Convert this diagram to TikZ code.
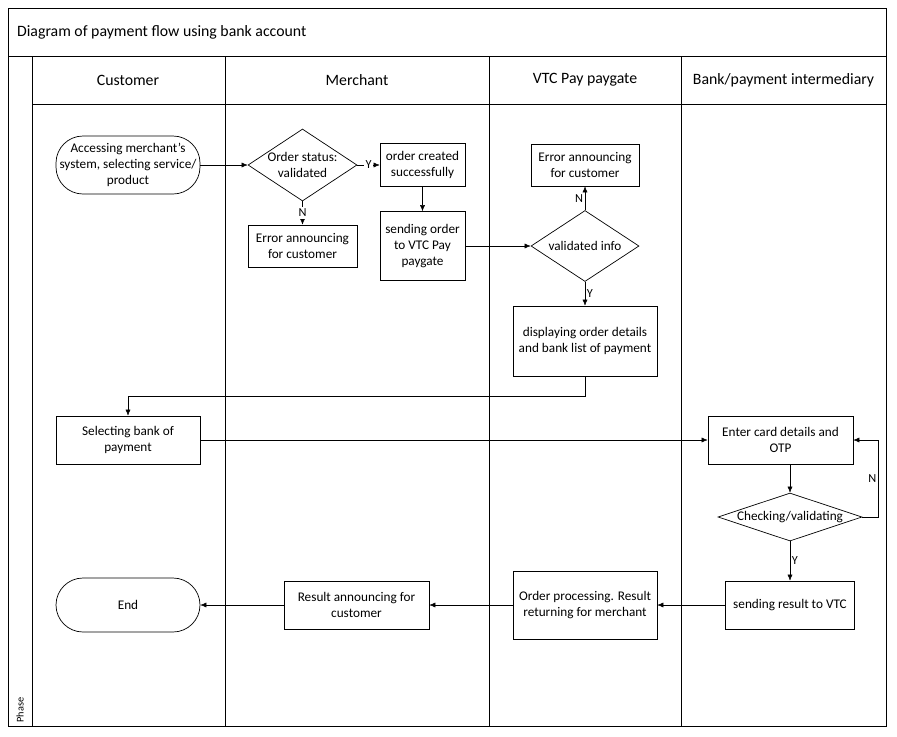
\documentclass[tikz,border=0pt]{standalone}
\usepackage{fontspec}
\setmainfont{Carlito}
\usetikzlibrary{shapes.geometric,arrows.meta}

\begin{document}
\begin{tikzpicture}[x=0.3mm,y=-0.3mm,>={Latex[length=1.8mm,width=1.5mm]},
	box/.style={draw,line width=0.6pt,inner sep=0pt,align=center,font=\fontsize{11.3}{13.6}\selectfont},
	terminal/.style={box,rounded corners=8.1mm},
	decision/.style={draw,diamond,line width=0.6pt,inner sep=0pt,label={[font=\fontsize{11.3}{13.6}\selectfont,align=center]center:#1}},
	yn/.style={font=\fontsize{10.5}{12}\selectfont,inner sep=1.5pt},
	lane/.style={line width=0.6pt},
	head/.style={font=\fontsize{13.5}{16}\selectfont}]
	\useasboundingbox (0,0) rectangle (897,736);
	
	% Frame and lanes
	\draw[line width=0.8pt] (8,8) rectangle (886,726);
	\draw[lane] (8,56) -- (886,56);
	\draw[lane] (32,104) -- (886,104);
	\foreach \x in {32,225,489,681}
	\draw[lane] (\x,56) -- (\x,726);
	
	% Titles
	\node[head,anchor=west] (title) at (13,32) {Diagram of payment flow using bank account};
	\foreach \x/\t [count=\i] in {128/Customer, 357/Merchant, 585/VTC Pay paygate, 783.5/{Bank/payment intermediary}}
	\node[head] (lane\i) at (\x,80) {\t};
	\node[rotate=90,font=\fontsize{8.8}{10}\selectfont] (phase) at (20,710) {Phase};
	
	% Customer
	\node[terminal,minimum width=43.2mm,minimum height=17.4mm] (start) at (128,165) {Accessing merchant’s\\system, selecting service/\\product};
	\node[box,minimum width=43.2mm,minimum height=14.4mm] (select) at (128,440) {Selecting bank of\\payment};
	\node[terminal,minimum width=43.2mm,minimum height=16.2mm] (end) at (128,605) {End};
	
	% Merchant
	\node[decision={Order status:\\validated},minimum width=32.7mm,minimum height=21.6mm] (order) at (302.5,165) {};
	\node[box,minimum width=32.7mm,minimum height=12.6mm] (merr) at (302.5,246) {Error announcing\\for customer};
	\node[box,minimum width=25.5mm,minimum height=12.9mm] (created) at (422.5,165) {order created\\successfully};
	\node[box,minimum width=25.5mm,minimum height=20.7mm] (sendord) at (422.5,246) {sending order\\to VTC Pay\\paygate};
	\node[box,minimum width=43.5mm,minimum height=14.4mm] (result) at (356.5,605) {Result announcing for\\customer};
	
	% VTC Pay paygate
	\node[box,minimum width=32.4mm,minimum height=12.6mm] (verr) at (585,165) {Error announcing\\for customer};
	\node[decision={validated info},minimum width=32.4mm,minimum height=21.3mm] (valid) at (585,246) {};
	\node[box,minimum width=43.2mm,minimum height=21mm] (disp) at (585,341) {displaying order details\\and bank list of payment};
	\node[box,minimum width=43.2mm,minimum height=20.4mm] (proc) at (585,605) {Order processing. Result\\returning for merchant};
	
	% Bank
	\node[box,minimum width=43.5mm,minimum height=14.4mm] (enter) at (780.5,440) {Enter card details and\\OTP};
	\node[decision={Checking/validating},minimum width=43.2mm,minimum height=14.4mm] (check) at (790,517) {};
	\node[box,minimum width=38.7mm,minimum height=14.4mm] (sendres) at (790,605) {sending result to VTC};
	
	% Arrows
	\draw[->] (start.east) -- (order.west);
	\draw[->] (order.east) -- node[yn,fill=white] {Y} (created.west);
	\draw[->] (order.south) -- node[yn,fill=white] {N} (merr.north);
	\draw[->] (created) -- (sendord);
	\draw[->] (sendord.east) -- (valid.west);
	\draw[->] (valid.north) -- node[yn,left] {N} (verr.south);
	\draw[->] (valid.south) -- node[yn,right] {Y} (disp.north);
	\draw[->] (disp.south) -- ++(0,20) -| (select.north);
	\draw[->] (select.east) -- (enter.west);
	\draw[->] (enter.south -| check.north) -- (check.north);
	\draw[->] (check.east) -- ++(16,0) |- node[yn,pos=0.25,left] {N} (enter.east);
	\draw[->] (check.south) -- node[yn,right] {Y} (sendres.north);
	\draw[->] (sendres) -- (proc);
	\draw[->] (proc) -- (result);
	\draw[->] (result) -- (end);
\end{tikzpicture}
\end{document}
